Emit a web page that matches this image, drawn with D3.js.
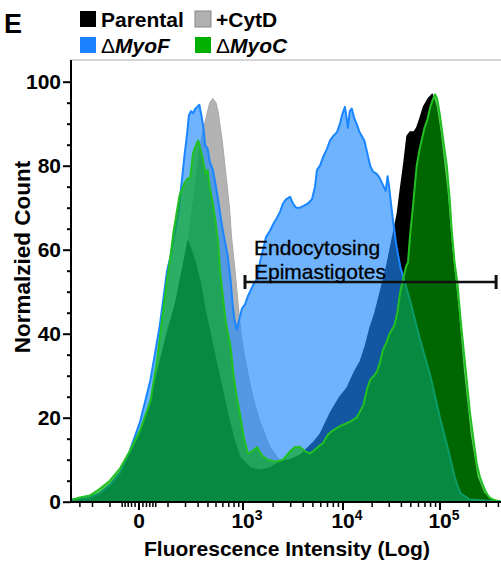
<!DOCTYPE html>
<html><head><meta charset="utf-8">
<script src="https://cdn.jsdelivr.net/npm/d3@7"></script>
<style>body{margin:0;background:#fff} svg{display:block} text{font-family:"Liberation Sans",Arial,sans-serif}</style>
</head><body>
<svg id="c" width="501" height="561"></svg>
<script>
// ---- data: [channel, normalized count]; channel 0 = "0", 100 = 10^3, 200 = 10^4, 300 = 10^5
const seriesNames = ["+CytD", "Parental", "ΔMyoF", "ΔMyoC"];
const cytD = [[-64,0],[-47,0.5],[-28,2],[-9,4],[11,10],[20,18],[30,30],[39,45],[49,65],[54,75],[59,85],[62,89],[65,92],[68,95],[71,96],[74,95],[76,93],[80,86],[84,77],[87,70],[89,63],[92,56],[95,48],[98,40],[102,34],[107,28],[112,23],[117,19],[127,13],[142,8],[157,5],[187,3],[238,2],[310,1],[363,0]];
const parental = [[-64,0.5],[-57,0.5],[-47,1],[-38,2],[-28,4],[-18,7],[-9,11],[1,16],[11,24],[20,33],[27,40],[35,47],[39,52],[44,58],[47,62],[50,60],[54,57],[59,52],[64,45],[71,37],[78,29],[85,21],[91,15],[97,10.5],[107,8],[117,7.5],[127,8],[137,9.5],[147,10],[157,11],[170,14],[177,16],[187,21],[197,25],[204,27],[212,31],[218,33.5],[223,37],[228,41.5],[233,45],[238,49.5],[245,56],[252,64],[256,68.5],[259,74],[263,81],[266,87],[269,88],[273,88],[276,89],[279,91],[283,94],[288,96],[292,97],[296,94],[300,88],[307,74],[312,60],[318,47],[324,31],[331,16],[338,6],[345,2],[352,0.5],[363,0]];
const myoF = [[-64,0.5],[-47,1],[-38,2],[-28,4],[-18,7],[-9,12],[1,19],[11,29],[20,42],[27,55],[30,58],[33,62],[38,69],[41,76],[44,83],[46,87],[48,92],[50,93],[52,92.5],[54,93.5],[56,94],[58,94.5],[60,92],[62,89],[63.5,85],[66,84],[68,81],[71,79],[74,75],[76,72],[79,67],[81,64],[85,59],[88,53],[90,47],[92,43],[94,41],[96,43],[99,46],[102,47],[105,49],[107,50],[111,52],[114,53],[117,57],[120,60],[123,63],[127,64.5],[130,66],[134,67.6],[137,69],[140,71],[143,72],[147,72.6],[150,71],[153,70],[157,70],[161,70.5],[165,71],[169,72],[172,75],[174,79],[177,80],[180,82],[184,84],[187,86],[190,87],[194,88],[197,90],[199,92],[202,94],[204,91],[205,89],[207,93],[209,93.6],[212,91],[214,90],[217,88],[222,86],[225,83],[228,80],[231,78.6],[235,78],[238,77],[241,75.5],[244,74],[246,77.5],[248,74],[251,68],[255,61],[259,56],[264,52],[269,48],[279,39],[290,30],[300,20],[310,11],[315,6],[321,2],[331,0.5],[363,0]];
const myoC = [[-64,0.5],[-57,1],[-47,1.5],[-38,3],[-28,5],[-18,8],[-9,12],[1,17],[11,24],[17,33],[23,45],[27,53],[30,58],[33,64],[37,70],[39,73],[44,76],[47,77],[49,77],[52,83],[55,85],[57,86],[59,84],[61,82],[64,78],[66,79],[68,75],[71,71],[74,66],[76,62],[78,55],[81,48],[84,42],[88,37],[91,30],[94,25],[97,21],[101,15],[105,11.5],[109,12],[114,13],[119,11],[125,10],[132,9.5],[140,10],[147,12],[152,13],[157,13],[162,12],[167,11.5],[170,12],[175,13],[180,14],[185,16],[190,17],[197,18],[202,18.5],[207,19],[214,20],[221,23],[225,27],[228,29],[232,30],[235,31],[238,33],[241,36],[245,38],[248,40],[253,42],[256,45],[259,50],[262,53],[265,56],[267,57],[269,63],[272,70],[276,80],[279,84],[284,89],[287,91],[290,94],[293,96],[295,97],[297,96],[300,92],[304,85],[307,80],[310,72],[312,65],[315,57],[318,52],[321,44],[324,37],[328,28],[331,21],[335,14],[338,9],[341,6],[345,3.5],[348,2],[351,1],[355,0.5],[363,0]];

const yTicks = [0, 20, 40, 60, 80, 100];
const yMinor = [5,10,15,25,30,35,45,50,55,65,70,75,85,90,95];
const xMajor = [0, 1e3, 1e4, 1e5];
const xMajorExp = ["", "3", "4", "5"];
const xMinor = [-300,-200,-100,-50,-40,-30,-20,-10,10,20,30,40,50,100,200,300,400,500,600,700,800,900,
  2e3,3e3,4e3,5e3,6e3,7e3,8e3,9e3,2e4,3e4,4e4,5e4,6e4,7e4,8e4,9e4,2e5,3e5,4e5];
const gateRange = [102, 363]; // channel span of gate
const gateLabel = ["Endocytosing", "Epimastigotes"];

// ---- layout
const svg = d3.select("#c");
const L = 71, R = 501, T = 60, B = 502;
const x = d3.scaleLinear().domain([0, 100, 200, 300]).range([139, 243, 343, 440]);
const y = d3.scaleLinear().domain([0, 100]).range([501.7, 81.7]);
// biexponential-like transform intensity -> channel
function ch(v){
  if (v >= 1000) return 100 + 100 * Math.log10(v / 1000);
  return Math.sign(v) * 100 * Math.log10(1 + Math.abs(v) / 111) / Math.log10(1 + 1000 / 111);
}

const area = d3.area().x(d => x(d[0])).y0(y(0)).y1(d => y(d[1]));
const line = d3.line().x(d => x(d[0])).y(d => y(d[1]));

const layers = [
  {d: cytD, fill: "#b3b3b3", op: 1, stroke: "#a8a8a8", sw: 1},
  {d: parental, fill: "#000", op: 1, stroke: "#000", sw: 1.5},
  {d: myoF, fill: "#1e88ff", op: 0.64, stroke: "#1a86ff", sw: 2},
  {d: myoC, fill: "#00aa00", op: 0.6, stroke: "#22c022", sw: 2}
];
const g = svg.append("g");
layers.forEach(l => {
  g.append("path").attr("d", area(l.d)).attr("fill", l.fill).attr("fill-opacity", l.op);
  g.append("path").attr("d", line(l.d)).attr("fill", "none").attr("stroke", l.stroke).attr("stroke-width", l.sw).attr("stroke-linejoin", "round");
});

// frame top
svg.append("line").attr("x1", L).attr("x2", R).attr("y1", T).attr("y2", T).attr("stroke", "#aaa").attr("stroke-width", 1);
// axes lines
svg.append("line").attr("x1", L).attr("x2", L).attr("y1", T).attr("y2", B + 1).attr("stroke", "#000").attr("stroke-width", 2);
svg.append("line").attr("x1", L).attr("x2", R).attr("y1", B).attr("y2", B).attr("stroke", "#000").attr("stroke-width", 2);

// y axis ticks
const ya = svg.append("g").attr("transform", `translate(${L},0)`);
ya.call(d3.axisLeft(y).tickValues(yTicks).tickSize(8).tickPadding(2).tickSizeOuter(0));
ya.append("g").call(d3.axisLeft(y).tickValues(yMinor).tickSize(4).tickFormat("").tickSizeOuter(0));
ya.selectAll(".domain").remove();
ya.selectAll("line").attr("stroke-width", 2);
ya.selectAll("text").attr("font-size", 21).attr("font-weight", "bold").attr("font-family", "Liberation Sans, Arial, sans-serif").attr("fill", "#000");

// x axis ticks
const xa = svg.append("g");
xa.selectAll("line.minor").data(xMinor).join("line").attr("class", "minor")
  .attr("x1", d => x(ch(d))).attr("x2", d => x(ch(d))).attr("y1", B).attr("y2", B + 5)
  .attr("stroke", "#000").attr("stroke-width", 1.5);
xa.selectAll("line.major").data(xMajor).join("line").attr("class", "major")
  .attr("x1", d => x(ch(d))).attr("x2", d => x(ch(d))).attr("y1", B).attr("y2", B + 8)
  .attr("stroke", "#000").attr("stroke-width", 2);
const xl = xa.selectAll("text").data(xMajor).join("text")
  .attr("x", (d, i) => x(ch(d)) + (i ? 4 : 0)).attr("y", 528)
  .attr("text-anchor", "middle").attr("font-size", 21).attr("font-weight", "bold");
xl.each(function(d, i){
  const t = d3.select(this);
  if (i === 0) { t.text("0"); return; }
  t.append("tspan").text("10");
  t.append("tspan").text(xMajorExp[i]).attr("font-size", 14).attr("dy", -8);
});

// axis titles
svg.append("text").attr("x", 287).attr("y", 556).attr("text-anchor", "middle")
  .attr("font-size", 21).attr("font-weight", "bold").text("Fluorescence Intensity (Log)");
svg.append("text").attr("transform", "translate(30,257) rotate(-90)").attr("text-anchor", "middle")
  .attr("font-size", 22.5).attr("font-weight", "bold").text("Normalzied Count");

// gate
const gy = 282;
const gate = svg.append("g").attr("stroke", "#111");
gate.append("line").attr("x1", x(gateRange[0])).attr("x2", x(gateRange[1]) - 5).attr("y1", gy).attr("y2", gy).attr("stroke-width", 2.5);
[x(gateRange[0]), x(gateRange[1]) - 5].forEach(px => gate.append("line").attr("x1", px).attr("x2", px).attr("y1", gy - 7).attr("y2", gy + 7).attr("stroke-width", 3));
gateLabel.forEach((s, i) => svg.append("text").attr("x", 254).attr("y", 255 + i * 24).attr("font-size", 21).attr("fill", "#000").attr("stroke", "#000").attr("stroke-width", 0.3).text(s));

// panel label
svg.append("text").attr("x", 4).attr("y", 33).attr("font-size", 27).attr("font-weight", "bold").text("E");

// legend
const legend = [
  {name: "Parental", color: "#000", x: 80, y: 11},
  {name: "+CytD", color: "#b0b0b0", x: 195, y: 11, border: "#888"},
  {name: "ΔMyoF", color: "#1a82ff", x: 80, y: 37},
  {name: "ΔMyoC", color: "#00b000", x: 195, y: 37}
];
legend.forEach(l => {
  svg.append("rect").attr("x", l.x).attr("y", l.y).attr("width", 16).attr("height", 16)
    .attr("fill", l.color).attr("stroke", l.border || "none").attr("stroke-width", 1);
  const t = svg.append("text").attr("x", l.x + 21).attr("y", l.y + 16).attr("font-size", 21).attr("font-weight", "bold");
  if (l.name[0] === "Δ") {
    t.append("tspan").text("Δ").attr("font-weight", "normal");
    t.append("tspan").text(l.name.slice(1)).attr("font-style", "italic");
  } else t.text(l.name);
});
</script>
</body></html>
